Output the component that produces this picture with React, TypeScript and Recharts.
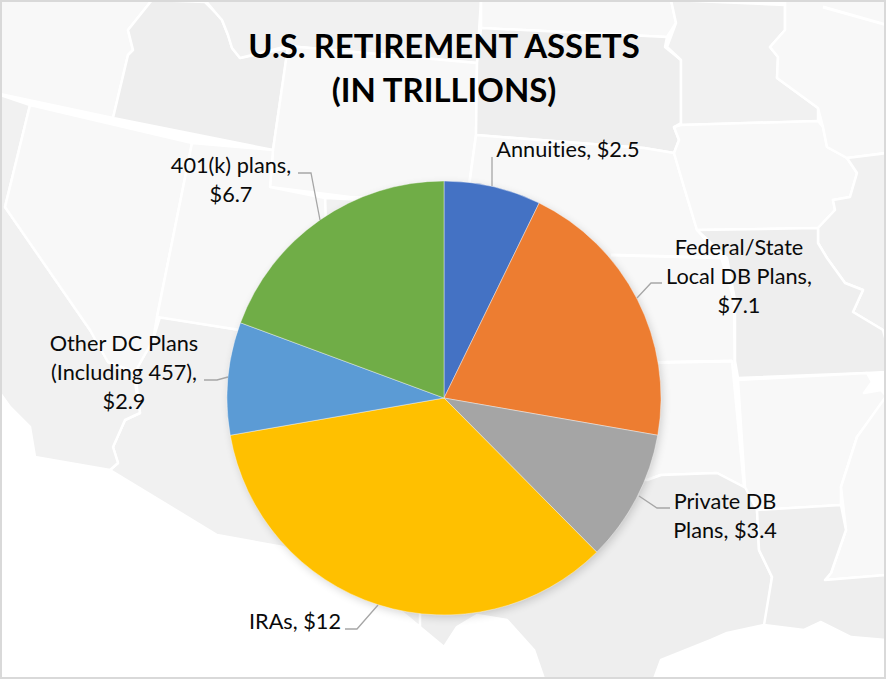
import React from "react";
import { PieChart, Pie, Cell } from "recharts";

const categories = [
  "Annuities",
  "Federal/State Local DB Plans",
  "Private DB Plans",
  "IRAs",
  "Other DC Plans (Including 457)",
  "401(k) plans",
];
const assets = [2.5, 7.1, 3.4, 12, 2.9, 6.7];
const sliceColors = ["#4472C4", "#ED7D31", "#A5A5A5", "#FFC000", "#5B9BD5", "#70AD47"];

const data = categories.map((name, i) => ({ name, value: assets[i] }));

// how each data label wraps, Excel style
const labelLines = [
  ["Annuities, $2.5"],
  ["Federal/State", "Local DB Plans,", "$7.1"],
  ["Private DB", "Plans, $3.4"],
  ["IRAs, $12"],
  ["Other DC Plans", "(Including 457),", "$2.9"],
  ["401(k) plans,", "$6.7"],
];
const labelPos = [
  { x: 568, y: 157 },
  { x: 739, y: 255 },
  { x: 725, y: 509 },
  { x: 295, y: 629 },
  { x: 124, y: 351 },
  { x: 231, y: 173 },
];
const leaders = [
  "492,186 492,157",
  "637,298 651,283 662,283",
  "639,496 657,508 670,508",
  "378,605 357,629 345,629",
  "228,377 217,380 204,380",
  "320,220 311,173 298,173",
];

const DARK = "#eeeeee";
const MID = "#f1f1f1";
const LIGHT = "#f8f8f8";

// faded map behind the chart
const mapShapes: [string, string][] = [
  [LIGHT, "0,0 152,0 128,30 133,50 128,55 113,118 0,94"],
  [DARK, "152,0 205,2 215,12 222,20 228,35 232,48 240,58 288,48 273,150 113,118 128,55 133,50 128,30"],
  [MID, "205,0 481,0 477,63 288,46 240,58 232,48 228,35 222,20 215,12"],
  [LIGHT, "288,46 477,63 476,135 467,200 350,197 270,187 273,150"],
  [MID, "325,198 467,205 467,400 325,400"],
  [LIGHT, "481,0 671,0 676,23 667,37 481,28"],
  [DARK, "481,28 667,37 665,47 681,60 681,123 674,127 679,140 674,153 644,148 476,135 477,63"],
  [LIGHT, "476,135 644,148 674,153 684,187 697,230 721,257 734,300 735,400 440,400"],
  [LIGHT, "600,363 732,361 744,487 717,473 661,475 647,480 600,480"],
  [DARK, "600,480 647,480 661,475 717,473 744,487 757,490 757,510 759,550 772,577 766,623 764,625 727,633 711,640 661,660 654,679 544,679 534,650 507,620 477,615 457,627 444,647 403,613 400,480"],
  [MID, "160,317 240,330 420,360 420,627 403,613 283,547 217,535 110,470 118,463 113,447 125,420 140,413 135,372 153,340"],
  [MID, "0,95 30,105 5,207 90,330 108,362 133,370 140,413 125,420 113,447 118,463 110,470 35,457 30,427 10,407 0,393"],
  [LIGHT, "30,105 192,143 157,317 153,340 135,372 108,362 90,330 5,207"],
  [LIGHT, "192,143 273,150 270,187 325,198 330,335 240,330 157,317"],
  [MID, "671,0 785,5 785,30 770,47 778,57 777,78 818,108 818,121 681,125 681,60 667,47 676,23"],
  [LIGHT, "681,125 818,121 823,127 827,147 847,158 857,173 850,197 833,200 835,210 818,228 697,230 684,187 674,153 679,140 674,127"],
  [LIGHT, "785,0 887,0 887,153 847,158 827,147 823,127 818,108 777,78 778,57 770,47 785,30"],
  [MID, "847,158 887,153 887,345 883,330 853,312 863,290 845,283 827,258 818,243 818,228 835,210 833,200 850,197 857,173"],
  [DARK, "697,230 818,228 818,243 827,258 845,283 863,290 853,312 883,330 887,345 887,372 867,373 738,378 735,361 735,300 727,258"],
  [LIGHT, "738,380 867,373 872,382 864,393 881,390 887,397 857,437 841,487 841,505 757,510 745,487"],
  [LIGHT, "887,395 887,575 825,580 831,573 846,530 841,487 857,437"],
  [DARK, "757,510 841,505 846,530 831,573 825,580 887,575 887,640 851,637 821,622 804,630 764,625 772,577 759,550"],
];
const mapLines = ["611,255 727,258", "640,363 732,361", "823,7 887,25"];

const FONT = "Lato, sans-serif";

const BackgroundMap = () => (
  <svg width={886} height={679} style={{ position: "absolute", left: 0, top: 0 }}>
    <defs>
      <filter id="pieShadow" x="-20%" y="-20%" width="140%" height="140%">
        <feGaussianBlur stdDeviation="5" />
      </filter>
    </defs>
    {mapShapes.map(([fill, points], i) => (
      <polygon key={i} points={points} fill={fill} stroke="#ffffff" strokeWidth={2.5} strokeLinejoin="round" />
    ))}
    {mapLines.map((points, i) => (
      <polyline key={i} points={points} fill="none" stroke="#ffffff" strokeWidth={3} />
    ))}
    <circle cx={446} cy={401} r={216} fill="#000000" opacity={0.18} filter="url(#pieShadow)" />
  </svg>
);

const renderLabel = (props: any) => {
  const i = props.index;
  const pos = labelPos[i];
  const lines = labelLines[i];
  const lineHeight = 29;
  return (
    <g key={`label-${i}`}>
      <polyline points={leaders[i]} fill="none" stroke="#a6a6a6" strokeWidth={1.3} />
      <text
        x={pos.x}
        textAnchor="middle"
        fontFamily={FONT}
        fontSize={21.7}
        fill="#0a0a0a"
        style={{ fontVariantLigatures: "none" }}
      >
        {lines.map((line, j) => (
          <tspan key={j} x={pos.x} y={pos.y + j * lineHeight}>
            {line}
          </tspan>
        ))}
      </text>
    </g>
  );
};

export default function App() {
  return (
    <div style={{ position: "absolute", left: 0, top: 0, width: 887, height: 679, background: "#fff", overflow: "hidden" }}>
      <BackgroundMap />
      <div style={{ position: "absolute", left: 0, top: 0 }}>
        <PieChart width={887} height={679} margin={{ top: 0, right: 0, bottom: 0, left: 0 }}>
          <text textAnchor="middle" fontFamily={FONT} fontWeight={700} fontSize={32.9} fill="#000000" style={{ fontVariantLigatures: "none" }}>
            <tspan x={444} y={58}>U.S. RETIREMENT ASSETS</tspan>
            <tspan x={444} y={102}>(IN TRILLIONS)</tspan>
          </text>
          <Pie
            data={data}
            dataKey="value"
            nameKey="name"
            cx={444}
            cy={398}
            outerRadius={217}
            startAngle={90}
            endAngle={-270}
            stroke="#ffffff"
            strokeWidth={0.4}
            label={renderLabel}
            labelLine={false}
            isAnimationActive={false}
          >
            {data.map((entry, i) => (
              <Cell key={entry.name} fill={sliceColors[i]} />
            ))}
          </Pie>
        </PieChart>
      </div>
      <div style={{ position: "absolute", left: 0, top: 0, width: 886, height: 679, boxSizing: "border-box", border: "2px solid #d9d9d9" }} />
    </div>
  );
}
